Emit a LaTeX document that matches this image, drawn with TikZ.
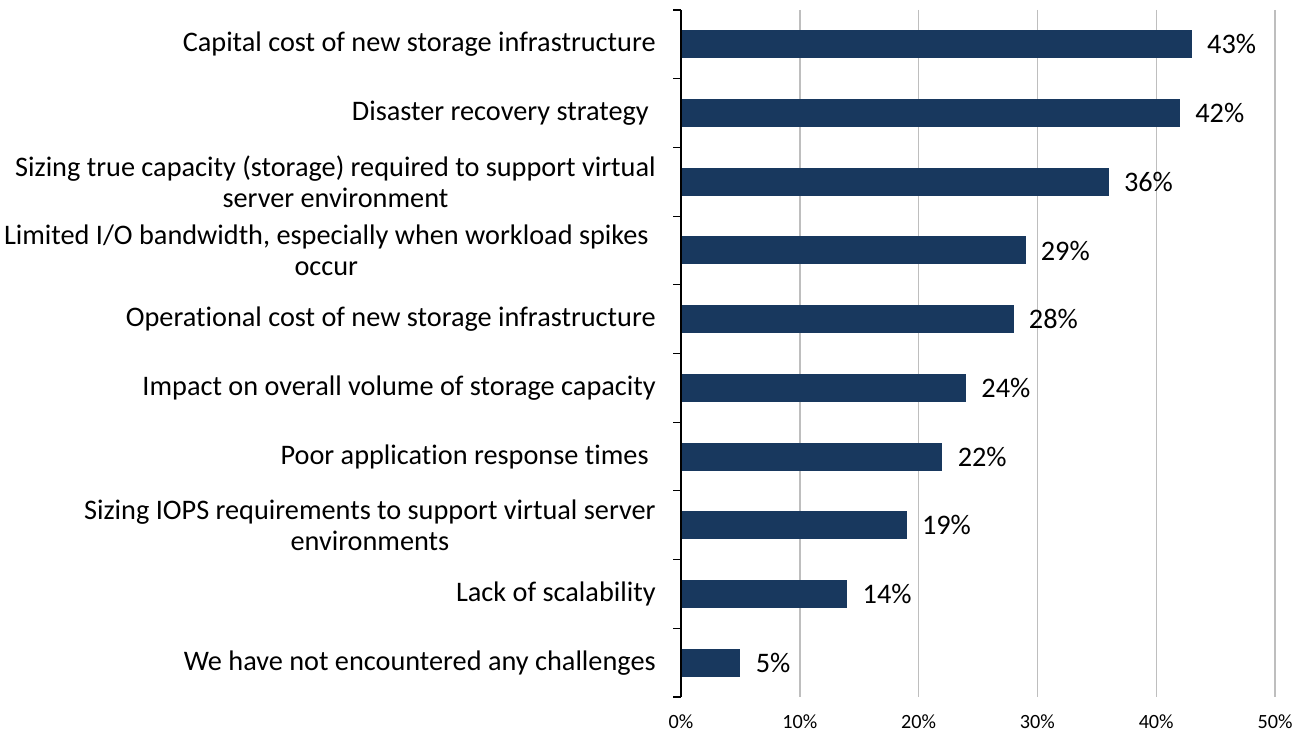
\documentclass[tikz,border=0pt]{standalone}
\usepackage{fontspec}
\setmainfont{Carlito}[Ligatures=NoCommon]
\usetikzlibrary{calc}
\definecolor{barblue}{RGB}{24,56,94}
\definecolor{gridgray}{RGB}{190,190,190}

\begin{document}
\begin{tikzpicture}[x=0.02cm, y=-0.02cm, line cap=butt, line join=miter]
      \useasboundingbox (0,0) rectangle (1298,733);
      \tikzset{
	      bar/.style={fill=barblue},
	      catlab/.style={anchor=east, align=center, inner sep=0pt, font=\fontsize{16.1}{17.6}\selectfont},
	      vallab/.style={anchor=west, inner sep=0pt, font=\fontsize{16.1}{17.6}\selectfont},
	      ticklab/.style={inner sep=0pt, font=\fontsize{11.5}{13}\selectfont},
	      gridline/.style={draw=gridgray, line width=0.8pt}
      }

      % --- axis corners (pixel units, y grows downwards)
      \coordinate (top) at (681,10);
      \coordinate (bot) at (681,697);

      % --- vertical gridlines
      \draw[gridline] (799.8,10) -- (799.8,697);
      \draw[gridline] (918.6,10) -- (918.6,697);
      \draw[gridline] (1037.4,10) -- (1037.4,697);
      \draw[gridline] (1156.2,10) -- (1156.2,697);
      \draw[gridline] (1275,10) -- (1275,697);

      % --- bars
      \fill[bar] (681,30.4)  rectangle (1191.8,58.4);
      \fill[bar] (681,99.1)  rectangle (1180.0,127.1);
      \fill[bar] (681,167.8) rectangle (1108.7,195.8);
      \fill[bar] (681,236.5) rectangle (1025.5,264.5);
      \fill[bar] (681,305.2) rectangle (1013.6,333.2);
      \fill[bar] (681,373.9) rectangle (966.1,401.9);
      \fill[bar] (681,442.6) rectangle (942.4,470.6);
      \fill[bar] (681,511.3) rectangle (906.7,539.3);
      \fill[bar] (681,580.0) rectangle (847.3,608.0);
      \fill[bar] (681,648.7) rectangle (740.4,676.7);

      % --- category axis with ticks
      \draw[line width=0.6pt] (top) -- (bot);
      \draw[line width=0.6pt] (673,10) -- (top);
      \draw[line width=0.6pt] (673,78.7) -- (681,78.7);
      \draw[line width=0.6pt] (673,147.4) -- (681,147.4);
      \draw[line width=0.6pt] (673,216.1) -- (681,216.1);
      \draw[line width=0.6pt] (673,284.8) -- (681,284.8);
      \draw[line width=0.6pt] (673,353.5) -- (681,353.5);
      \draw[line width=0.6pt] (673,422.2) -- (681,422.2);
      \draw[line width=0.6pt] (673,490.9) -- (681,490.9);
      \draw[line width=0.6pt] (673,559.6) -- (681,559.6);
      \draw[line width=0.6pt] (673,628.3) -- (681,628.3);
      \draw[line width=0.6pt] (673,697) -- (bot);

      % --- category labels
      \node[catlab] (capital)  at (656,44.4)  {Capital cost of new storage infrastructure};
      \node[catlab] (disaster) at (649,113.1) {Disaster recovery strategy};
      \node[catlab] (sizing)   at (656,181.8) {Sizing true capacity (storage) required to support virtual\\server environment};
      \node[catlab] (limited)  at (649,250.5) {Limited I/O bandwidth, especially when workload spikes\\occur};
      \node[catlab] (opcost)   at (656,319.2) {Operational cost of new storage infrastructure};
      \node[catlab] (impact)   at (656,387.9) {Impact on overall volume of storage capacity};
      \node[catlab] (poor)     at (649,456.6) {Poor application response times};
      \node[catlab] (iops)     at (656,525.3) {Sizing IOPS requirements to support virtual server\\environments};
      \node[catlab] (scale)    at (656,594.0) {Lack of scalability};
      \node[catlab] (none)     at (656,662.7) {We have not encountered any challenges};

      % --- value labels
      \node[vallab] (v43) at (1206.8,44.4)  {43\%};
      \node[vallab] (v42) at (1195.0,113.1) {42\%};
      \node[vallab] (v36) at (1123.7,181.8) {36\%};
      \node[vallab] (v29) at (1040.5,250.5) {29\%};
      \node[vallab] (v28) at (1028.6,319.2) {28\%};
      \node[vallab] (v24) at (981.1,387.9)  {24\%};
      \node[vallab] (v22) at (957.4,456.6)  {22\%};
      \node[vallab] (v19) at (921.7,525.3)  {19\%};
      \node[vallab] (v14) at (862.3,594.0)  {14\%};
      \node[vallab] (v5)  at (755.4,662.7)  {5\%};

      % --- percentage axis labels
      \node[ticklab] (p0)  at (681,722)    {0\%};
      \node[ticklab] (p10) at (799.8,722)  {10\%};
      \node[ticklab] (p20) at (918.6,722)  {20\%};
      \node[ticklab] (p30) at (1037.4,722) {30\%};
      \node[ticklab] (p40) at (1156.2,722) {40\%};
      \node[ticklab] (p50) at (1275,722)   {50\%};

\end{tikzpicture}
\end{document}
